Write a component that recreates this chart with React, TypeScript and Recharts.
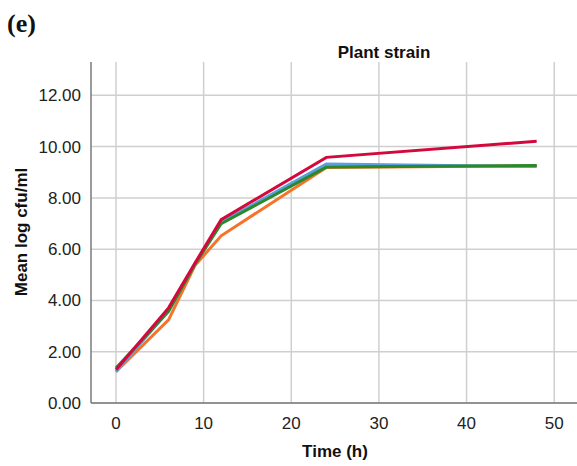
import React from "react";
import { LineChart, Line, XAxis, YAxis, CartesianGrid } from "recharts";

const times = [0, 6, 9, 12, 24, 48];
const strainRed = [1.3, 3.71, 5.45, 7.15, 9.58, 10.21];
const strainBlue = [1.22, 3.6, 5.42, 7.05, 9.32, 9.22];
const strainGreen = [1.36, 3.57, 5.4, 6.99, 9.2, 9.26];
const strainOrange = [1.22, 3.24, 5.36, 6.52, 9.19, 9.25];

const xTicks = [0, 10, 20, 30, 40, 50];
const yTicks = [0, 2, 4, 6, 8, 10, 12];

const data = times.map((t, i) => ({
  t,
  red: strainRed[i],
  blue: strainBlue[i],
  green: strainGreen[i],
  orange: strainOrange[i],
}));

const FONT = "'Liberation Sans', Arial, sans-serif";

export default function App() {
  return (
    <div style={{ position: "absolute", left: 0, top: 0, width: 577, height: 466, background: "#fff" }}>
      <LineChart
        width={577}
        height={466}
        data={data}
        margin={{ top: 62, right: 0, bottom: 0, left: 0 }}
      >
        <CartesianGrid stroke="#cfcfcf" strokeWidth={1.5} syncWithTicks />
        <XAxis
          type="number"
          dataKey="t"
          domain={[-2.85, 52.6]}
          allowDataOverflow
          ticks={xTicks}
          height={63}
          tickLine={false}
          axisLine={{ stroke: "#7a7a7a", strokeWidth: 1.5 }}
          tick={{ fill: "#222", fontSize: 17, fontFamily: FONT }}
          tickMargin={8}
        />
        <YAxis
          type="number"
          domain={[0, 13.3]}
          allowDataOverflow
          ticks={yTicks}
          width={91}
          tickLine={false}
          axisLine={{ stroke: "#7a7a7a", strokeWidth: 1.5 }}
          tick={{ fill: "#222", fontSize: 17, fontFamily: FONT }}
          tickMargin={4}
          tickFormatter={(v: number) => v.toFixed(2)}
        />
        <Line dataKey="orange" stroke="#f5732a" strokeWidth={3} dot={false} isAnimationActive={false} />
        <Line dataKey="blue" stroke="#5aa0e0" strokeWidth={3} dot={false} isAnimationActive={false} />
        <Line dataKey="green" stroke="#2a8a2a" strokeWidth={3} dot={false} isAnimationActive={false} />
        <Line dataKey="red" stroke="#d4083c" strokeWidth={3} dot={false} isAnimationActive={false} />
      </LineChart>
      <div style={{ position: "absolute", left: 7, top: 10, fontFamily: "'Liberation Serif', serif", fontWeight: "bold", fontSize: 26, lineHeight: "28px", color: "#111" }}>
        (e)
      </div>
      <div style={{ position: "absolute", left: 284, width: 200, top: 43, textAlign: "center", fontFamily: FONT, fontWeight: "bold", fontSize: 17, lineHeight: "20px", color: "#111" }}>
        Plant strain
      </div>
      <div style={{ position: "absolute", left: 235, width: 200, top: 442, textAlign: "center", fontFamily: FONT, fontWeight: "bold", fontSize: 17, lineHeight: "20px", color: "#111" }}>
        Time (h)
      </div>
      <div style={{ position: "absolute", left: 22 - 100, width: 200, top: 232 - 10, textAlign: "center", fontFamily: FONT, fontWeight: "bold", fontSize: 17, lineHeight: "20px", color: "#111", transform: "rotate(-90deg)", transformOrigin: "100px 10px" }}>
        Mean log cfu/ml
      </div>
    </div>
  );
}
